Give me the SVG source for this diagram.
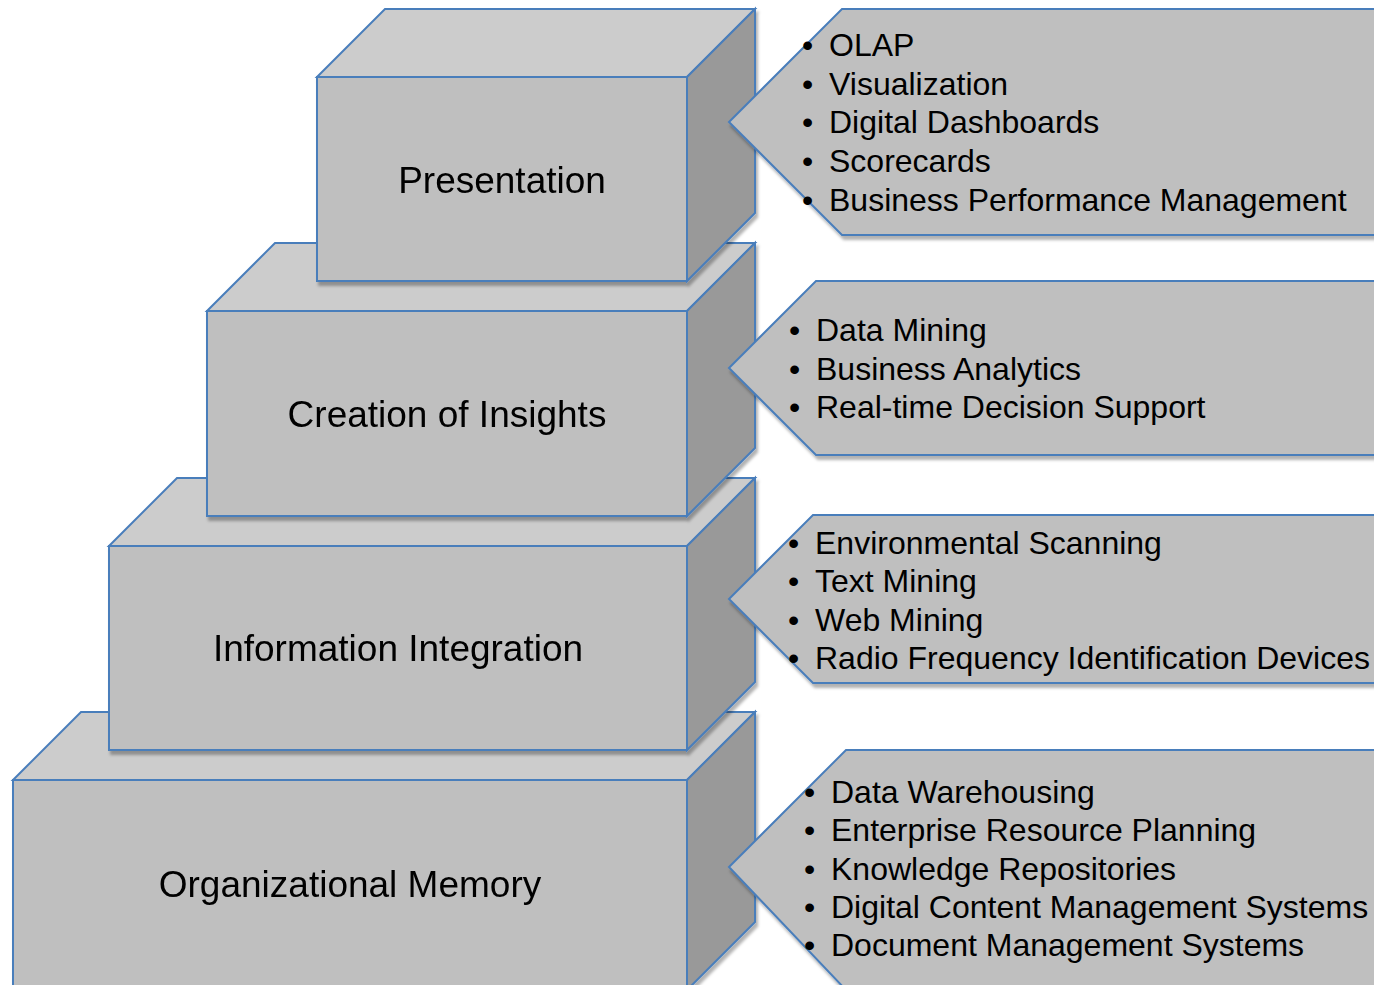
<svg xmlns="http://www.w3.org/2000/svg" width="1374" height="985" viewBox="0 0 1374 985">
<defs>
<filter id="sh" x="-5%" y="-5%" width="115%" height="120%">
<feDropShadow dx="2" dy="4" stdDeviation="1.5" flood-color="#000" flood-opacity="0.3"/>
</filter>
<style>
.front{fill:#bfbfbf;stroke:#4a7ebb;stroke-width:2;stroke-linejoin:miter}
.top{fill:#cccccc;stroke:#4a7ebb;stroke-width:2}
.side{fill:#999999;stroke:#4a7ebb;stroke-width:2}
.call{fill:#bfbfbf;stroke:#4a7ebb;stroke-width:2}
.lbl{font-family:"Liberation Sans",Arial,sans-serif;font-size:37px;fill:#000;text-anchor:middle}
.it{font-family:"Liberation Sans",Arial,sans-serif;font-size:32px;fill:#000}
</style>
</defs>
<rect width="1374" height="985" fill="#fff"/>
<g id="block-organizational-memory" filter="url(#sh)">
<polygon class="top" points="13,780 81,712 755,712 687,780"/>
<rect class="front" x="13" y="780" width="674" height="210"/>
<polygon class="side" points="687,780 755,712 755,922 687,990"/>
<text class="lbl" x="350" y="897">Organizational Memory</text>
</g>
<g id="block-information-integration" filter="url(#sh)">
<polygon class="top" points="109,546 177,478 755,478 687,546"/>
<rect class="front" x="109" y="546" width="578" height="204"/>
<polygon class="side" points="687,546 755,478 755,682 687,750"/>
<text class="lbl" x="398" y="661">Information Integration</text>
</g>
<g id="block-creation-of-insights" filter="url(#sh)">
<polygon class="top" points="207,311 275,243 755,243 687,311"/>
<rect class="front" x="207" y="311" width="480" height="205"/>
<polygon class="side" points="687,311 755,243 755,448 687,516"/>
<text class="lbl" x="447" y="427">Creation of Insights</text>
</g>
<g id="block-presentation" filter="url(#sh)">
<polygon class="top" points="317,77 385,9 755,9 687,77"/>
<rect class="front" x="317" y="77" width="370" height="204"/>
<polygon class="side" points="687,77 755,9 755,213 687,281"/>
<text class="lbl" x="502" y="193">Presentation</text>
</g>
<g id="callouts">
<g id="callout-presentation">
<polygon class="call" filter="url(#sh)" points="729,122 842,9 1380,9 1380,235 842,235"/>
<g class="it">
<text x="802" y="56">•</text><text x="829" y="56">OLAP</text>
<text x="802" y="95">•</text><text x="829" y="95">Visualization</text>
<text x="802" y="133">•</text><text x="829" y="133">Digital Dashboards</text>
<text x="802" y="172">•</text><text x="829" y="172">Scorecards</text>
<text x="802" y="211">•</text><text x="829" y="211">Business Performance Management</text>
</g>
</g>
<g id="callout-creation">
<polygon class="call" filter="url(#sh)" points="729,368 816,281 1380,281 1380,455 816,455"/>
<g class="it">
<text x="789" y="341">•</text><text x="816" y="341">Data Mining</text>
<text x="789" y="380">•</text><text x="816" y="380">Business Analytics</text>
<text x="789" y="418">•</text><text x="816" y="418">Real-time Decision Support</text>
</g>
</g>
<g id="callout-information">
<polygon class="call" filter="url(#sh)" points="729,599 813,515 1380,515 1380,683 813,683"/>
<g class="it">
<text x="788" y="554">•</text><text x="815" y="554">Environmental Scanning</text>
<text x="788" y="592">•</text><text x="815" y="592">Text Mining</text>
<text x="788" y="631">•</text><text x="815" y="631">Web Mining</text>
<text x="788" y="669">•</text><text x="815" y="669">Radio Frequency Identification Devices</text>
</g>
</g>
<g id="callout-organizational">
<polygon class="call" filter="url(#sh)" points="729,867 846,750 1380,750 1380,990 846,990"/>
<g class="it">
<text x="804" y="803">•</text><text x="831" y="803">Data Warehousing</text>
<text x="804" y="841">•</text><text x="831" y="841">Enterprise Resource Planning</text>
<text x="804" y="880">•</text><text x="831" y="880">Knowledge Repositories</text>
<text x="804" y="918">•</text><text x="831" y="918">Digital Content Management Systems</text>
<text x="804" y="956">•</text><text x="831" y="956">Document Management Systems</text>
</g>
</g>
</g>
</svg>
